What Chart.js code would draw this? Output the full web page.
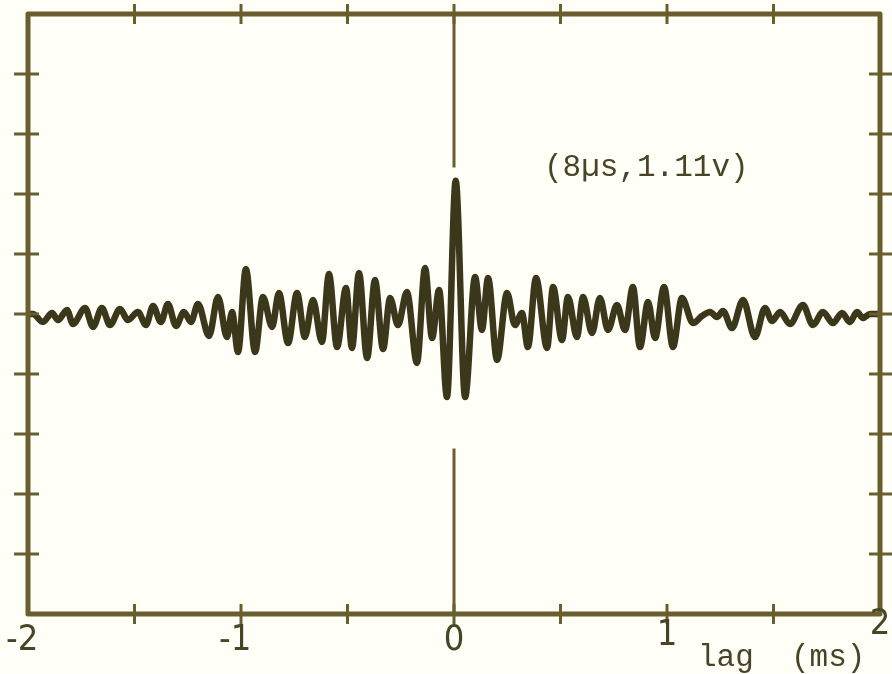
<!DOCTYPE html>
<html>
<head>
<meta charset="utf-8">
<script src="https://cdn.jsdelivr.net/npm/chart.js@4"></script>
<style>
  html, body { margin: 0; padding: 0; background: #fffef7; }
  #wrap { width: 892px; height: 674px; }
</style>
</head>
<body>
<div id="wrap"><canvas id="myChart" width="892" height="674"></canvas></div>
<script>
const ctx = document.getElementById("myChart").getContext("2d");

// --- Data (extrema of the correlogram) ---
const lagMs = [
  -2.000, -1.977, -1.930, -1.887, -1.859, -1.817, -1.789, -1.732, -1.695, -1.653,
  -1.615, -1.568, -1.531, -1.484, -1.446, -1.413, -1.376, -1.343, -1.305, -1.268,
  -1.235, -1.202, -1.150, -1.108, -1.066, -1.042, -1.014, -0.977, -0.934, -0.897,
  -0.854, -0.822, -0.779, -0.737, -0.700, -0.662, -0.620, -0.587, -0.549, -0.507,
  -0.479, -0.446, -0.408, -0.371, -0.333, -0.300, -0.263, -0.221, -0.174, -0.136,
  -0.103, -0.070, -0.033, 0.008, 0.052, 0.099, 0.131, 0.160, 0.202, 0.249,
  0.286, 0.319, 0.347, 0.385, 0.437, 0.465, 0.507, 0.535, 0.577, 0.606,
  0.648, 0.685, 0.723, 0.765, 0.803, 0.840, 0.873, 0.911, 0.944, 0.986,
  1.028, 1.070, 1.122, 1.164, 1.202, 1.235, 1.263, 1.305, 1.357, 1.413,
  1.460, 1.493, 1.531, 1.577, 1.638, 1.685, 1.732, 1.779, 1.822, 1.859,
  1.892, 1.920, 1.953, 2.000
];
const volts = [
  0.000, 0.000, -0.067, 0.008, -0.050, 0.033, -0.083, 0.050, -0.108, 0.050,
  -0.092, 0.042, -0.050, 0.017, -0.092, 0.067, -0.067, 0.083, -0.100, 0.017,
  -0.067, 0.083, -0.183, 0.142, -0.192, 0.017, -0.317, 0.375, -0.317, 0.142,
  -0.108, 0.175, -0.242, 0.175, -0.192, 0.117, -0.233, 0.333, -0.275, 0.217,
  -0.283, 0.342, -0.367, 0.283, -0.292, 0.133, -0.092, 0.183, -0.408, 0.383,
  -0.200, 0.200, -0.692, 1.110, -0.692, 0.308, -0.133, 0.300, -0.383, 0.175,
  -0.092, 0.008, -0.275, 0.300, -0.283, 0.225, -0.217, 0.142, -0.192, 0.142,
  -0.158, 0.133, -0.133, 0.075, -0.133, 0.225, -0.275, 0.100, -0.200, 0.225,
  -0.275, 0.133, -0.075, -0.017, 0.017, -0.025, 0.025, -0.117, 0.117, -0.192,
  0.050, -0.058, 0.017, -0.083, 0.075, -0.092, 0.017, -0.075, 0.008, -0.067,
  0.017, -0.033, 0.000, 0.000
];

// zero-lag marker line (broken around the trace)
const markerLag = [0, 0, null, 0, 0];
const markerV = [2.5, 1.22, null, -1.12, -2.5];

// axis ticks / labels
const xTickLabels = ["-2", "-1", "0", "1", "2"];
const xMinorTicks = [-1.5, -1, -0.5, 0, 0.5, 1, 1.5];
const yMinorTicks = [-2, -1.5, -1, -0.5, 0, 0.5, 1, 1.5, 2];
const peakNote = "(8\u00b5s,1.11v)";
const axisTitle = "lag  (ms)";

const INK = "#3b371a";
const FRAME = "#6b5e2e";

// --- Frame, ticks and lettering ---
const framePlugin = {
  id: "frame",
  afterDatasetsDraw(chart) {
    const c = chart.ctx;
    const { left, right, top, bottom } = chart.chartArea;
    const xs = chart.scales.x;
    const ys = chart.scales.y;
    c.save();
    c.strokeStyle = FRAME;
    c.lineWidth = 5;
    c.lineJoin = "round";
    c.strokeRect(left, top, right - left, bottom - top);

    // tick marks cross the frame line
    c.lineWidth = 3;
    c.beginPath();
    xMinorTicks.forEach((v) => {
      const px = xs.getPixelForValue(v);
      c.moveTo(px, top - 10); c.lineTo(px, top + 10);
      c.moveTo(px, bottom - 10); c.lineTo(px, bottom + 10);
    });
    yMinorTicks.forEach((v) => {
      const py = ys.getPixelForValue(v);
      c.moveTo(left - 14, py); c.lineTo(left + 11, py);
      c.moveTo(right - 11, py); c.lineTo(right + 12, py);
    });
    c.stroke();

    // tick labels: the digit sits under its tick
    c.fillStyle = "#4a4426";
    c.font = '36px "Liberation Sans Narrow", "DejaVu Sans Condensed", sans-serif';
    c.textBaseline = "alphabetic";
    const lift = { "1": 5, "2": 16 };
    xTickLabels.forEach((t) => {
      const v = parseFloat(t);
      const px = xs.getPixelForValue(v);
      const digit = t.replace("-", "");
      const dw = c.measureText(digit).width;
      c.textAlign = "right";
      const y = 650 - (v > 0 ? lift[digit] || 0 : 0);
      c.fillText(t, px + dw / 2, y);
    });

    // typed annotations
    c.font = '31px "Liberation Mono", "DejaVu Sans Mono", monospace';
    c.textAlign = "left";
    c.fillText(peakNote, 544, 176);
    c.fillText(axisTitle, 698, 666);
    c.restore();
  },
};

// --- Chart ---
const trace = lagMs.map((x, i) => ({ x: x, y: volts[i] }));
const marker = markerLag.map((x, i) => (x === null ? { x: null, y: null } : { x: x, y: markerV[i] }));

const chart = new Chart(ctx, {
  type: "line",
  data: {
    datasets: [
      {
        data: marker,
        borderColor: FRAME,
        borderWidth: 3,
        pointRadius: 0,
        spanGaps: false,
        tension: 0,
      },
      {
        data: trace,
        borderColor: INK,
        borderWidth: 6.5,
        pointRadius: 0,
        cubicInterpolationMode: "monotone",
        borderCapStyle: "round",
        borderJoinStyle: "round",
      },
    ],
  },
  options: {
    responsive: false,
    animation: false,
    devicePixelRatio: 1,
    layout: { padding: { left: 28, right: 12, top: 14, bottom: 60 } },
    scales: {
      x: { type: "linear", min: -2, max: 2, display: false },
      y: { type: "linear", min: -2.5, max: 2.5, display: false },
    },
    plugins: {
      legend: { display: false },
      tooltip: { enabled: false },
    },
  },
  plugins: [framePlugin],
});
</script>
</body>
</html>
